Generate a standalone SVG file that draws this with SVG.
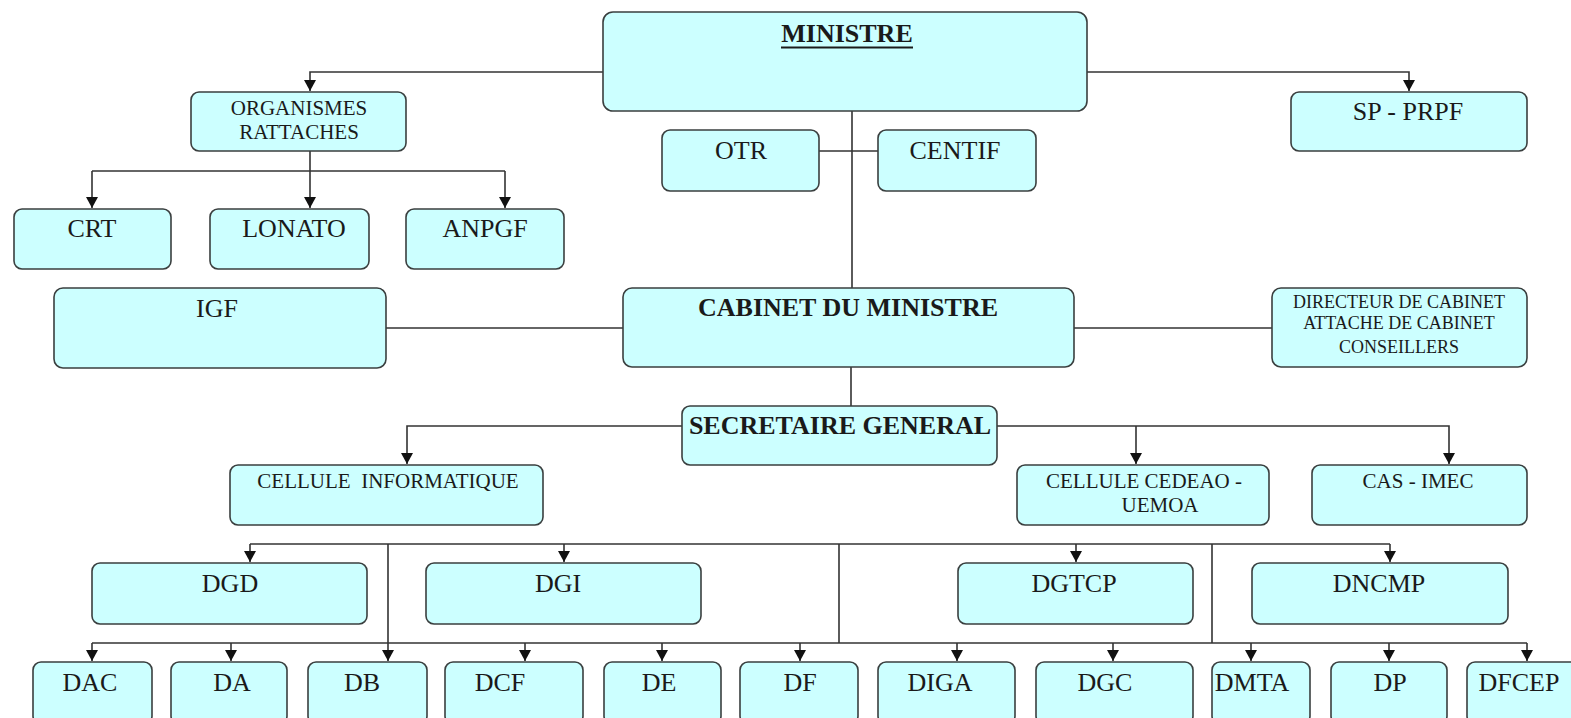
<svg xmlns="http://www.w3.org/2000/svg" width="1571" height="718" viewBox="0 0 1571 718">
<style>
.box{fill:#CCFFFF;stroke:#3a3f3f;stroke-width:1.6}
.t{font-family:"Liberation Serif","Times New Roman",serif;fill:#1a1a1a;text-anchor:middle}
.b{font-weight:bold}
.l{font-size:26px}
.m{font-size:21px}
.s{font-size:18px}
.c{fill:none;stroke:#333;stroke-width:1.6}
</style>
<defs>
<marker id="arr" markerUnits="userSpaceOnUse" markerWidth="12" markerHeight="12" refX="11" refY="6" orient="auto">
<path d="M0,0 L11,6 L0,12 z" fill="#111"/>
</marker>
</defs>
<rect width="1571" height="718" fill="#ffffff"/>
<g id="connectors">
<path class="c" d="M603,72 H310 V91" marker-end="url(#arr)"/>
<path class="c" d="M1087,72 H1409 V91" marker-end="url(#arr)"/>
<path class="c" d="M310,151 V208" marker-end="url(#arr)"/>
<path class="c" d="M92,171 H505"/>
<path class="c" d="M92,171 V208" marker-end="url(#arr)"/>
<path class="c" d="M505,171 V208" marker-end="url(#arr)"/>
<path class="c" d="M852,111 V288"/>
<path class="c" d="M819,151 H878"/>
<path class="c" d="M386,328 H623"/>
<path class="c" d="M1074,328 H1272"/>
<path class="c" d="M851,367 V406"/>
<path class="c" d="M682,426 H407 V464" marker-end="url(#arr)"/>
<path class="c" d="M997,426 H1449 V464" marker-end="url(#arr)"/>
<path class="c" d="M1136,426 V464" marker-end="url(#arr)"/>
<path class="c" d="M250,544 H1390"/>
<path class="c" d="M250,544 V562" marker-end="url(#arr)"/>
<path class="c" d="M564,544 V562" marker-end="url(#arr)"/>
<path class="c" d="M1076,544 V562" marker-end="url(#arr)"/>
<path class="c" d="M1390,544 V562" marker-end="url(#arr)"/>
<path class="c" d="M388,544 V661" marker-end="url(#arr)"/>
<path class="c" d="M839,544 V643"/>
<path class="c" d="M1212,544 V643"/>
<path class="c" d="M92,643 H1527"/>
<path class="c" d="M92,643 V661" marker-end="url(#arr)"/>
<path class="c" d="M231,643 V661" marker-end="url(#arr)"/>
<path class="c" d="M525,643 V661" marker-end="url(#arr)"/>
<path class="c" d="M662,643 V661" marker-end="url(#arr)"/>
<path class="c" d="M800,643 V661" marker-end="url(#arr)"/>
<path class="c" d="M957,643 V661" marker-end="url(#arr)"/>
<path class="c" d="M1113,643 V661" marker-end="url(#arr)"/>
<path class="c" d="M1251,643 V661" marker-end="url(#arr)"/>
<path class="c" d="M1389,643 V661" marker-end="url(#arr)"/>
<path class="c" d="M1527,643 V661" marker-end="url(#arr)"/>
</g>
<g id="ministre"><rect class="box" x="603" y="12" width="484" height="99" rx="10"/><text class="t b l" x="847" y="42">MINISTRE</text><line x1="781" y1="47.5" x2="913" y2="47.5" stroke="#1a1a1a" stroke-width="2"/></g>
<g id="organismes"><rect class="box" x="191" y="92" width="215" height="59" rx="8"/><text class="t m" x="299" y="115">ORGANISMES</text><text class="t m" x="299" y="139">RATTACHES</text></g>
<g id="sp-prpf"><rect class="box" x="1291" y="92" width="236" height="59" rx="8"/><text class="t l" x="1408" y="120">SP - PRPF</text></g>
<g id="otr"><rect class="box" x="662" y="130" width="157" height="61" rx="8"/><text class="t l" x="741" y="159">OTR</text></g>
<g id="centif"><rect class="box" x="878" y="130" width="158" height="61" rx="8"/><text class="t l" x="955" y="159">CENTIF</text></g>
<g id="crt"><rect class="box" x="14" y="209" width="157" height="60" rx="8"/><text class="t l" x="92" y="237">CRT</text></g>
<g id="lonato"><rect class="box" x="210" y="209" width="159" height="60" rx="8"/><text class="t l" x="294" y="237">LONATO</text></g>
<g id="anpgf"><rect class="box" x="406" y="209" width="158" height="60" rx="8"/><text class="t l" x="485" y="237">ANPGF</text></g>
<g id="igf"><rect class="box" x="54" y="288" width="332" height="80" rx="9"/><text class="t l" x="217" y="317">IGF</text></g>
<g id="cabinet"><rect class="box" x="623" y="288" width="451" height="79" rx="9"/><text class="t b l" x="848" y="316">CABINET DU MINISTRE</text></g>
<g id="directeur"><rect class="box" x="1272" y="288" width="255" height="79" rx="9"/><text class="t s" x="1399" y="308">DIRECTEUR DE CABINET</text><text class="t s" x="1399" y="329">ATTACHE DE CABINET</text><text class="t s" x="1399" y="353">CONSEILLERS</text></g>
<g id="sg"><rect class="box" x="682" y="406" width="315" height="59" rx="8"/><text class="t b l" x="840" y="434">SECRETAIRE GENERAL</text></g>
<g id="cellule-info"><rect class="box" x="230" y="465" width="313" height="60" rx="8"/><text class="t m" x="388" y="488" xml:space="preserve">CELLULE  INFORMATIQUE</text></g>
<g id="cellule-cedeao"><rect class="box" x="1017" y="465" width="252" height="60" rx="8"/><text class="t m" x="1144" y="488">CELLULE CEDEAO -</text><text class="t m" x="1160" y="512">UEMOA</text></g>
<g id="cas-imec"><rect class="box" x="1312" y="465" width="215" height="60" rx="8"/><text class="t m" x="1418" y="488">CAS - IMEC</text></g>
<g id="dgd"><rect class="box" x="92" y="563" width="275" height="61" rx="8"/><text class="t l" x="230" y="592">DGD</text></g>
<g id="dgi"><rect class="box" x="426" y="563" width="275" height="61" rx="8"/><text class="t l" x="558" y="592">DGI</text></g>
<g id="dgtcp"><rect class="box" x="958" y="563" width="235" height="61" rx="8"/><text class="t l" x="1074" y="592">DGTCP</text></g>
<g id="dncmp"><rect class="box" x="1252" y="563" width="256" height="61" rx="8"/><text class="t l" x="1379" y="592">DNCMP</text></g>
<g id="dac"><rect class="box" x="33" y="662" width="119" height="62" rx="8"/><text class="t l" x="90" y="691">DAC</text></g>
<g id="da"><rect class="box" x="171" y="662" width="116" height="62" rx="8"/><text class="t l" x="232" y="691">DA</text></g>
<g id="db"><rect class="box" x="308" y="662" width="119" height="62" rx="8"/><text class="t l" x="362" y="691">DB</text></g>
<g id="dcf"><rect class="box" x="445" y="662" width="138" height="62" rx="8"/><text class="t l" x="500" y="691">DCF</text></g>
<g id="de"><rect class="box" x="604" y="662" width="117" height="62" rx="8"/><text class="t l" x="659" y="691">DE</text></g>
<g id="df"><rect class="box" x="740" y="662" width="118" height="62" rx="8"/><text class="t l" x="800" y="691">DF</text></g>
<g id="diga"><rect class="box" x="878" y="662" width="137" height="62" rx="8"/><text class="t l" x="940" y="691">DIGA</text></g>
<g id="dgc"><rect class="box" x="1036" y="662" width="157" height="62" rx="8"/><text class="t l" x="1105" y="691">DGC</text></g>
<g id="dmta"><rect class="box" x="1212" y="662" width="98" height="62" rx="8"/><text class="t l" x="1252" y="691">DMTA</text></g>
<g id="dp"><rect class="box" x="1331" y="662" width="116" height="62" rx="8"/><text class="t l" x="1390" y="691">DP</text></g>
<g id="dfcep"><rect class="box" x="1467" y="662" width="120" height="62" rx="8"/><text class="t l" x="1519" y="691">DFCEP</text></g>
</svg>
